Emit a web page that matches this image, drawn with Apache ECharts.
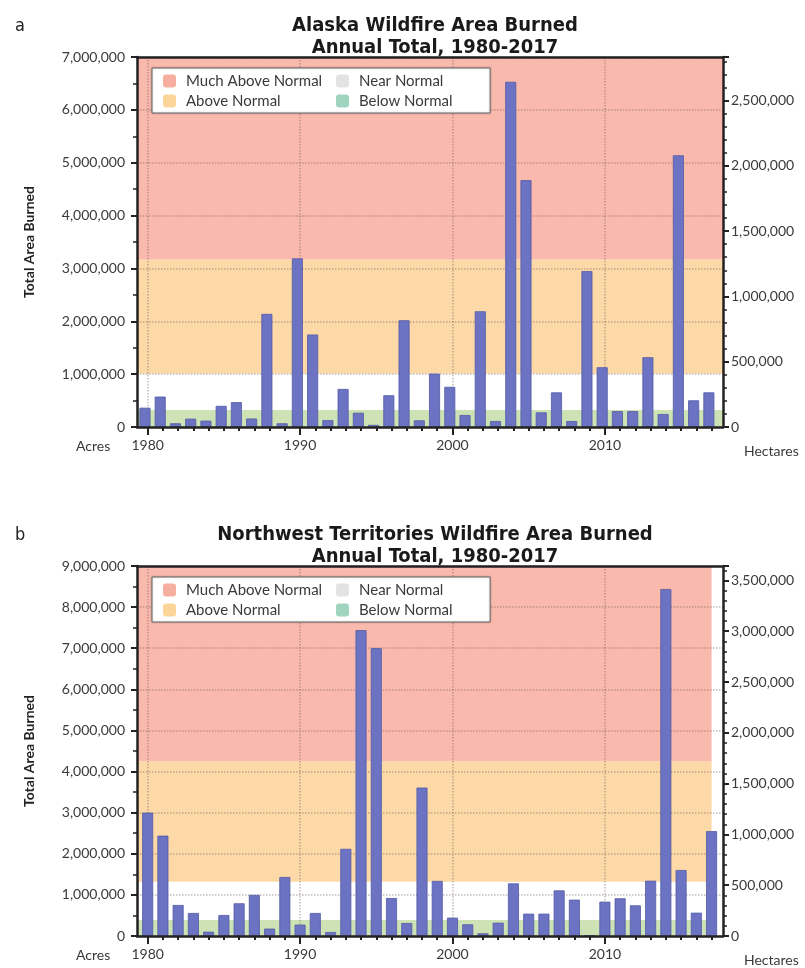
<!DOCTYPE html>
<html><head><meta charset="utf-8">
<script src="https://cdn.jsdelivr.net/npm/echarts@6/dist/echarts.min.js"></script>
<style>html,body{margin:0;padding:0;background:#fff}#c{width:805px;height:968px}</style>
</head><body><div id="c"></div>
<script>
const years = [1980,1981,1982,1983,1984,1985,1986,1987,1988,1989,1990,1991,1992,1993,1994,1995,1996,1997,1998,1999,2000,2001,2002,2003,2004,2005,2006,2007,2008,2009,2010,2011,2012,2013,2014,2015,2016,2017];
const alaskaAcres = [365000,575000,70000,157000,120000,400000,470000,160000,2140000,70000,3190000,1750000,130000,720000,270000,40000,600000,2020000,126000,1010000,760000,227000,2190000,113000,6530000,4670000,277000,655000,113000,2950000,1130000,300000,300000,1320000,245000,5140000,505000,655000];
const nwtAcres = [3000000,2440000,754000,560000,105000,510000,795000,1000000,180000,1435000,276000,560000,97000,2120000,7440000,7000000,924000,316000,3610000,1340000,446000,284000,65000,324000,1280000,543000,543000,1110000,884000,10000,835000,917000,746000,1345000,8440000,1605000,567000,2550000];
// band thresholds (acres): below/near, near/above, above/much above
const alaskaBands = [320000, 1010000, 3170000];
const nwtBands = [390000, 1320000, 4250000];
const bandNames = ['Much Above Normal','Above Normal','Near Normal','Below Normal'];
const decadeTicks = [1980,1990,2000,2010];
const titles = ['Alaska Wildfire Area Burned\nAnnual Total, 1980-2017','Northwest Territories Wildfire Area Burned\nAnnual Total, 1980-2017'];
const panelLetters = ['a','b'];
const acresMax = [7000000, 9000000];
const ACRES_PER_HA = 2.47105;

const FONT = 'Lato, "Open Sans", sans-serif';
const TFONT = '"Liberation Sans Narrow", "DejaVu Sans Condensed", "Arial Narrow", sans-serif';
const bandFill = {below:'#cde2b5', near:'#ffffff', above:'#fdd9a8', much:'#f9b9ac'};
const legendColors = {'Much Above Normal':'#f6ae9f','Above Normal':'#fcd59a','Near Normal':'#e3e3e3','Below Normal':'#9fd4bf'};
const fmt = v => Math.round(v).toLocaleString('en-US');
const X_MIN = 1979.3, X_MAX = 2017.75;

const gridTops = [57, 566];
const option = {
  animation: false,
  backgroundColor: '#fff',
  title: [], legend: [], grid: [], xAxis: [], yAxis: [], series: []
};

[0,1].forEach(i => {
  const top = gridTops[i];
  const data = i === 0 ? alaskaAcres : nwtAcres;
  const bands = i === 0 ? alaskaBands : nwtBands;
  const bandEnd = i === 0 ? X_MAX : 2017;
  option.title.push({text: titles[i], left: 430, textAlign: 'center', top: top - 47,
    textStyle: {fontFamily: TFONT, fontSize: 20, fontWeight: 'bold', color: '#1a1a1a', lineHeight: 22}});
  option.title.push({text: panelLetters[i], left: 10, top: top - 45,
    textStyle: {fontFamily: TFONT, fontSize: 18, fontWeight: 'normal', color: '#222'}});
  option.title.push({text: 'Acres', left: 71, top: top + 377,
    textStyle: {fontFamily: FONT, fontSize: 14, fontWeight: 'normal', color: '#3a3a3a'}});
  option.title.push({text: 'Hectares', left: 739, top: top + 382,
    textStyle: {fontFamily: FONT, fontSize: 14, fontWeight: 'normal', color: '#3a3a3a'}});

  option.grid.push({left: 137, right: 82, top: top, height: 370});
  const xb = i * 3;
  option.xAxis.push({type: 'value', gridIndex: i, min: X_MIN, max: X_MAX, position: 'bottom', z: 1.5,
    axisLine: {show: false},
    axisTick: {show: true, length: 8, customValues: decadeTicks, lineStyle: {color: '#222', width: 2}},
    axisLabel: {customValues: decadeTicks, formatter: v => String(v), margin: 11, fontFamily: FONT, fontSize: 14, color: '#3a3a3a'},
    splitLine: {show: true, lineStyle: {type: 'dotted', width: 1.5, color: 'rgba(120,100,95,0.45)'}}
  });
  option.xAxis.push({type: 'value', gridIndex: i, min: X_MIN, max: X_MAX, position: 'bottom', z: 3,
    axisLine: {show: true, lineStyle: {color: '#222', width: 2.5}},
    axisTick: {show: true, length: 4, customValues: years, lineStyle: {color: '#222', width: 2}},
    axisLabel: {show: false}, splitLine: {show: false}
  });
  option.xAxis.push({type: 'value', gridIndex: i, min: X_MIN, max: X_MAX, position: 'top', z: 3,
    axisLine: {show: true, lineStyle: {color: '#222', width: 2.5}},
    axisTick: {show: false}, axisLabel: {show: false}, splitLine: {show: false}
  });
  const yb = i * 2;
  option.yAxis.push({type: 'value', gridIndex: i, min: 0, max: acresMax[i], interval: 1000000, position: 'left', z: 1.5,
    name: 'Total Area Burned', nameLocation: 'middle', nameGap: 101, nameRotate: 90,
    nameTextStyle: {fontFamily: FONT, fontSize: 14, fontWeight: 'bold', color: '#222'},
    axisLine: {show: true, lineStyle: {color: '#222', width: 2.5}},
    axisTick: {show: true, length: 6, lineStyle: {color: '#222', width: 2}},
    minorTick: {show: true, splitNumber: 2, length: 4, lineStyle: {color: '#222', width: 1.5}},
    axisLabel: {formatter: fmt, margin: 12, fontFamily: FONT, fontSize: 14, color: '#3a3a3a'},
    splitLine: {show: true, lineStyle: {type: 'dotted', width: 1.5, color: 'rgba(120,100,95,0.45)'}}
  });
  option.yAxis.push({type: 'value', gridIndex: i, min: 0, max: acresMax[i] / ACRES_PER_HA, interval: 500000, position: 'right', z: 3,
    axisLine: {show: true, lineStyle: {color: '#222', width: 2.5}},
    axisTick: {show: true, length: 6, lineStyle: {color: '#222', width: 2}},
    minorTick: {show: true, splitNumber: 5, length: 4, lineStyle: {color: '#222', width: 1.5}},
    axisLabel: {formatter: fmt, showMaxLabel: false, margin: 8, fontFamily: FONT, fontSize: 14, color: '#3a3a3a'},
    splitLine: {show: false}
  });

  option.series.push({
    type: 'bar', xAxisIndex: xb, yAxisIndex: yb, z: 2, barWidth: 11,
    data: years.map((y, k) => [y, data[k]]),
    itemStyle: {color: '#6b73c2', borderColor: '#535aa6', borderWidth: 0.8},
    markArea: {silent: true, z: 1, label: {show: false},
      data: [
        [{xAxis: X_MIN, yAxis: 0, itemStyle: {color: bandFill.below}}, {xAxis: bandEnd, yAxis: bands[0]}],
        [{xAxis: X_MIN, yAxis: bands[0], itemStyle: {color: bandFill.near}}, {xAxis: bandEnd, yAxis: bands[1]}],
        [{xAxis: X_MIN, yAxis: bands[1], itemStyle: {color: bandFill.above}}, {xAxis: bandEnd, yAxis: bands[2]}],
        [{xAxis: X_MIN, yAxis: bands[2], itemStyle: {color: bandFill.much}}, {xAxis: bandEnd, yAxis: acresMax[i]}]
      ]}
  });

  option.legend.push({orient: 'vertical', left: 152, top: top + 11, selectedMode: false, z: 5,
    data: [bandNames[0], bandNames[1]], icon: 'roundRect', itemWidth: 13, itemHeight: 13, itemGap: 4,
    padding: [5, 168, 4, 11], backgroundColor: '#fff', borderColor: '#6a6a6a', borderWidth: 1,
    shadowColor: 'rgba(0,0,0,0.25)', shadowBlur: 2,
    textStyle: {fontFamily: FONT, fontSize: 15, lineHeight: 16, color: '#3a3a3a', padding: [0,0,0,5]}});
  option.legend.push({orient: 'vertical', left: 336, top: top + 16, selectedMode: false, z: 6,
    data: [bandNames[2], bandNames[3]], icon: 'roundRect', itemWidth: 13, itemHeight: 13, itemGap: 4,
    padding: 0,
    textStyle: {fontFamily: FONT, fontSize: 15, lineHeight: 16, color: '#3a3a3a', padding: [0,0,0,5]}});
});

bandNames.forEach(n => option.series.push({type: 'bar', name: n, xAxisIndex: 0, yAxisIndex: 0, data: [],
  itemStyle: {color: legendColors[n]}}));

const chart = echarts.init(document.getElementById('c'), null, {renderer: 'canvas'});
chart.setOption(option);
</script></body></html>
